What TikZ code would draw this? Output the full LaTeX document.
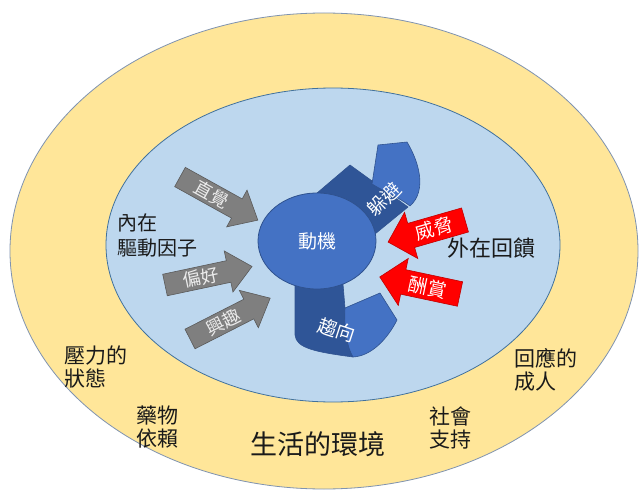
\documentclass[tikz,border=0pt]{standalone}
\usepackage{fontspec}
\setmainfont{Noto Sans CJK TC}
\usetikzlibrary{shapes.geometric}
\definecolor{ringyellow}{HTML}{FFE699}
\definecolor{ringline}{HTML}{7F93B0}
\definecolor{innerblue}{HTML}{BDD7EE}
\definecolor{innerline}{HTML}{41719C}
\definecolor{midblue}{HTML}{4472C4}
\definecolor{deepblue}{HTML}{2F5597}
\definecolor{blueline}{HTML}{2F528F}
\definecolor{greyfill}{HTML}{7F7F7F}
\definecolor{greyline}{HTML}{5A5A5A}
\definecolor{redfill}{HTML}{FF0000}
\definecolor{redline}{HTML}{C00000}
\definecolor{inktext}{HTML}{1A1A1A}
\newcommand\blockarrow[9]{%
  \begin{scope}[shift={#2}, rotate=#3]
    \pgfmathsetmacro\hbase{#4-24*sign(#4)}
    \pgfmathsetmacro\tpos{\hbase/2+4*sign(#4)}
    \draw[#7] (0,-#5) -- (\hbase,-#5) -- (\hbase,-#6) -- (#4,0) -- (\hbase,#6) -- (\hbase,#5) -- (0,#5) -- cycle;
    \node[#8, rotate=#3] (#1) at (\tpos,0) {#9};
  \end{scope}}
\begin{document}
\begin{tikzpicture}[x=1pt,y=-1pt,
  outerring/.style={fill=ringyellow, draw=ringline, line width=0.8pt},
  innerring/.style={fill=innerblue, draw=innerline, line width=0.8pt},
  motivebox/.style={ellipse, fill=midblue, draw=blueline, line width=0.8pt, minimum width=118pt, minimum height=96pt, inner sep=0pt, text=white, font=\fontsize{19}{22}\selectfont},
  darkband/.style={fill=deepblue, draw=blueline, line width=0.6pt, line join=round},
  lightband/.style={fill=midblue, draw=blueline, line width=0.6pt, line join=round},
  greyarrow/.style={fill=greyfill, draw=greyline, line width=0.6pt, line join=miter},
  redarrow/.style={fill=redfill, draw=redline, line width=0.6pt, line join=miter},
  greytext/.style={text=white!92!black, inner sep=0pt, font=\fontsize{18}{20}\selectfont},
  redtext/.style={text=white, inner sep=0pt, font=\fontsize{19}{21}\selectfont},
  bandtext/.style={text=white, inner sep=0pt, font=\fontsize{19}{21}\selectfont},
  label/.style={text=inktext, inner sep=0pt, align=left, anchor=west}
]
\useasboundingbox (0,0) rectangle (640,492);
\fill[white] (0,0) rectangle (640,492);
% rings
\draw[outerring] (324,251) ellipse [x radius=314pt, y radius=238pt];
\draw[innerring] (333,245) ellipse [x radius=227pt, y radius=157pt];
% ribbons
\draw[darkband] (310,199) -- (350,165) -- (408,207) -- (342,261) -- cycle;
\draw[lightband] (372,184) -- (378,145) -- (407,142) .. controls (418,160) and (428,190) .. (410,206) .. controls (400,198) and (385,192) .. cycle;
\draw[darkband] (295,272) -- (295,335) .. controls (296,348) and (315,352) .. (353,357) -- (345,308) -- (342,272) -- cycle;
\draw[lightband] (345,308) -- (380,293) -- (397,320) .. controls (388,338) and (372,356) .. (353,357) .. controls (346,345) and (344,325) .. cycle;
% motive
\node[motivebox] (motive) at (317,241) {動機};
\node[bandtext, rotate=45] (avoid) at (384,199) {躲避};
\node[bandtext, rotate=-18] (approach) at (337,330) {趨向};
% grey arrows
\blockarrow{intuition}{(180,177)}{-29}{89}{11}{21}{greyarrow}{greytext}{直覺}
\blockarrow{preference}{(165,285)}{12}{89}{11}{21}{greyarrow}{greytext}{偏好}
\blockarrow{interest}{(190,339)}{27}{90}{11}{21}{greyarrow}{greytext}{興趣}
% red arrows
\blockarrow{threat}{(465,220)}{16}{-80}{12.5}{24}{redarrow}{redtext}{威脅}
\blockarrow{reward}{(460,294)}{-12}{-82}{12.5}{24}{redarrow}{redtext}{酬賞}
% labels
\node[label, font=\fontsize{20}{25}\selectfont] (inner) at (117,235) {內在\\驅動因子};
\node[label, font=\fontsize{22}{26}\selectfont] (outer) at (447,248) {外在回饋};
\node[label, font=\fontsize{21}{23}\selectfont] (stress) at (64,367) {壓力的\\狀態};
\node[label, font=\fontsize{21}{23}\selectfont] (drug) at (136,427) {藥物\\依賴};
\node[label, font=\fontsize{21}{23}\selectfont] (adult) at (514,370) {回應的\\成人};
\node[label, font=\fontsize{21}{23}\selectfont] (social) at (429,428) {社會\\支持};
\node[text=inktext, inner sep=0pt, font=\fontsize{27}{30}\selectfont] (env) at (318,444) {生活的環境};
\end{tikzpicture}
\end{document}
